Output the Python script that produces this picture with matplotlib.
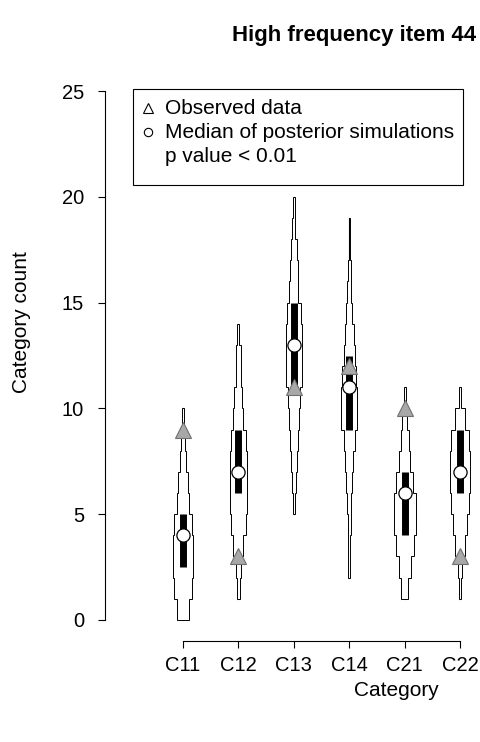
import matplotlib
matplotlib.use("Agg")
import matplotlib.pyplot as plt
from matplotlib.lines import Line2D
from matplotlib.patches import Polygon, Rectangle
import numpy as np

plt.rcParams['font.family'] = ['Liberation Sans', 'DejaVu Sans']

# data
categories = ['C11', 'C12', 'C13', 'C14', 'C21', 'C22']
observed = [9, 3, 11, 12, 10, 3]
sim_median = [4, 7, 13, 11, 6, 7]
sim_q_low = [2.5, 6, 11, 9, 4, 6]
sim_q_high = [5, 9, 15, 12.5, 7, 9]
sim_min = [0, 1, 5, 2, 1, 1]
sim_max = [10, 14, 20, 19, 11, 11]
# relative frequency (%) of each count in the posterior simulations, from sim_min upward
freq_c11 = [8, 12, 14, 14, 12, 8, 6.5, 4.5, 3, 1]
freq_c12 = [2, 3.5, 7, 10, 11.5, 12, 11.5, 11, 7, 5.5, 4, 3, 1.5]
freq_c13 = [1.5, 3, 4, 5.5, 7, 8.5, 11, 11, 11, 9.5, 6.5, 5.5, 4, 2, 1]
freq_c14 = [1, 1.5, 2, 3, 4, 5.5, 7.5, 11, 11, 10, 7.5, 6.5, 4, 3, 2, 0.7, 0.7]
freq_c21 = [4.5, 8.5, 12.5, 15.5, 15.5, 12, 8, 5.5, 3, 1.5]
freq_c22 = [1.5, 3, 6.5, 9.5, 12, 14, 14, 12, 7.5, 2]
freqs = [freq_c11, freq_c12, freq_c13, freq_c14, freq_c21, freq_c22]

legend_labels = ['Observed data', 'Median of posterior simulations', 'p value < 0.01']

W, H, DPI = 480, 742, 100
WIDTH_SCALE = 0.0129  # half-width (x units) per percent


def fx(px):
    return px / W


def fy(py):
    return 1 - py / H


def step_violin(ax, x, start, fr):
    fr = np.asarray(fr, dtype=float) * WIDTH_SCALE
    edges = start + np.arange(len(fr) + 1)
    right = []
    for i, w in enumerate(fr):
        right.append((x + w, edges[i]))
        right.append((x + w, edges[i + 1]))
    left = [(2 * x - px, py) for px, py in right[::-1]]
    poly = Polygon(right + left, closed=True, facecolor='white',
                   edgecolor='black', linewidth=0.7, zorder=2)
    ax.add_patch(poly)


fig = plt.figure(figsize=(W / DPI, H / DPI), dpi=DPI)
ax = fig.add_axes([fx(105), fy(641), 1 - fx(105), (641 - 70) / H])

xs = np.arange(1, len(categories) + 1)
for i, x in enumerate(xs):
    # whisker over full simulated range, violin drawn on top of it
    ax.plot([x, x], [sim_min[i], sim_max[i]], color='black', lw=0.8, zorder=1)
    step_violin(ax, x, sim_min[i], freqs[i])
    ax.plot([x, x], [sim_q_low[i], sim_q_high[i]], color='black', lw=5,
            solid_capstyle='butt', zorder=4)

ax.plot(xs, sim_median, linestyle='none', marker='o', ms=9.5,
        markerfacecolor='white', markeredgecolor='black', mew=0.9, zorder=5)
ax.plot(xs, observed, linestyle='none', marker='^', ms=11,
        markerfacecolor='#a8a8a8', markeredgecolor='#707070', mew=0.8, zorder=6)

ax.set_xlim(1 - 78 / 55.4, 6 + 20 / 55.4)
ax.set_ylim(-1, 26)
for s in ['top', 'right']:
    ax.spines[s].set_visible(False)
ax.spines['left'].set_bounds(0, 25)
ax.spines['bottom'].set_bounds(1, 6)
ax.spines['left'].set_linewidth(0.8)
ax.spines['bottom'].set_linewidth(0.8)
ax.set_xticks(xs)
ax.set_xticklabels(categories)
ax.set_yticks([0, 5, 10, 15, 20, 25])
ax.tick_params(axis='both', length=5, width=0.8, labelsize=14.5)
ax.tick_params(axis='x', pad=6)
ax.tick_params(axis='y', pad=10)

# legend box drawn by hand, R style
fig.patches.append(Rectangle((fx(133), fy(185)), fx(463) - fx(133),
                             fy(89) - fy(185), transform=fig.transFigure,
                             facecolor='white', edgecolor='black', lw=0.8))
row_y = [108, 132, 156]
fig.add_artist(Line2D([fx(148)], [fy(row_y[0])], linestyle='none', marker='^',
                      ms=7.5, markerfacecolor='none', markeredgecolor='black',
                      mew=0.8, transform=fig.transFigure))
fig.add_artist(Line2D([fx(148)], [fy(row_y[1])], linestyle='none', marker='o',
                      ms=6, markerfacecolor='none', markeredgecolor='black',
                      mew=0.8, transform=fig.transFigure))
for lab, ry in zip(legend_labels, row_y):
    fig.text(fx(165), fy(ry + 1), lab, ha='left', va='center', fontsize=15)

fig.text(fx(354), fy(35), 'High frequency item 44', ha='center',
         va='center', fontsize=16, fontweight='bold')
fig.text(fx(22), fy(322), 'Category count', ha='center', va='center',
         rotation=90, fontsize=15)
fig.text(fx(396), fy(690), 'Category', ha='center', va='center',
         fontsize=15)

fig.savefig('out.png', dpi=DPI)
